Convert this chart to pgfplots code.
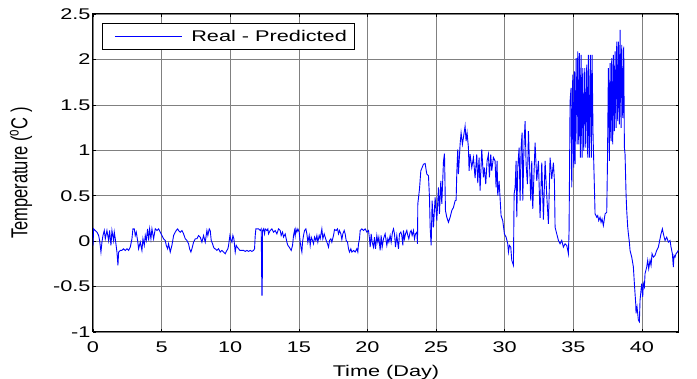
\documentclass[border=0pt]{standalone}
\usepackage{pgfplots}
\pgfplotsset{compat=1.18}
\usepackage{fontspec}
\setmainfont{Liberation Sans}[FakeStretch=1.4]
\newfontfamily\plainfont{Liberation Sans}
\usepackage{graphicx}
\begin{document}
\begin{tikzpicture}
\path[use as bounding box] (-93pt,-47pt) rectangle (604pt,332pt);
\begin{axis}[
  at={(0pt,0pt)}, anchor=south west,
  scale only axis, width=586pt, height=318pt,
  xmin=0, xmax=42.7, ymin=-1, ymax=2.5,
  xtick={0,5,...,40}, ytick={-1,-0.5,0,0.5,1,1.5,2,2.5},
  /pgf/number format/assume math mode=true,
  tick align=inside, major tick length=3pt,
  tick style={black, line width=0.6pt},
  axis line style={black, line width=1pt},
  grid=major, major grid style={black!50, line width=0.6pt},
  every tick label/.append style={font=\fontsize{15.5}{17}\selectfont},
  xticklabel style={yshift=-6pt},
  yticklabel style={xshift=1pt},
  xlabel={Time (Day)}, ylabel={\plainfont\fontsize{16.5}{18}\selectfont\scalebox{1}[1.4]{Temperature (\textsuperscript{o}C )}},
  xlabel style={font=\fontsize{15.5}{17}\selectfont, yshift=-6pt},
  ylabel style={yshift=14pt},
  legend style={at={(axis description cs:0,1)}, anchor=north west, xshift=9pt, yshift=-9pt,
    draw=black, line width=0.8pt, font=\fontsize{15.5}{17}\selectfont,
    inner xsep=6pt, inner ysep=4.5pt},
  legend cell align=left,
  legend image code/.code={\draw[#1, line width=0.6pt] (0pt,0pt) -- (67pt,0pt); \path (-6pt,0pt) (74pt,0pt);},
]
\addplot[blue, line width=0.9pt] coordinates {
(0,-0.05) (0.046,0.135) (0.167,0.117) (0.289,0.099) (0.41,0.062) (0.483,0.007) (0.58,-0.12) (0.653,-0.011) (0.726,0.062) (0.823,0.117) (0.896,0.026) (1.017,0.117) (1.138,0.007) (1.211,0.117) (1.308,-0.047) (1.381,0.117) (1.502,0.007) (1.551,0.099) (1.624,0.026) (1.745,-0.12) (1.818,-0.266) (1.867,-0.12) (1.988,-0.102) (2.109,-0.102) (2.231,-0.084) (2.352,-0.102) (2.473,-0.084) (2.595,-0.102) (2.716,-0.066) (2.838,0.026) (2.91,0.135) (3.008,0.135) (3.08,0.062) (3.153,0.099) (3.25,0.007) (3.323,-0.084) (3.445,-0.011) (3.566,-0.102) (3.639,0.026) (3.736,-0.047) (3.809,0.062) (3.882,0.007) (3.979,0.135) (4.052,0.007) (4.125,0.135) (4.222,0.026) (4.295,0.135) (4.416,0.026) (4.537,0.135) (4.659,0.117) (4.78,0.135) (4.901,0.099) (5.023,0.062) (5.144,0.026) (5.266,0.007) (5.338,-0.047) (5.436,-0.084) (5.508,-0.029) (5.63,-0.12) (5.751,-0.047) (5.873,0.062) (5.994,0.099) (6.067,0.117) (6.164,0.135) (6.237,0.117) (6.358,0.099) (6.479,0.117) (6.601,0.08) (6.722,0.026) (6.844,0.007) (6.965,-0.029) (7.038,-0.084) (7.135,-0.12) (7.208,-0.084) (7.329,-0.011) (7.45,0.026) (7.572,0.026) (7.693,0.062) (7.815,0.044) (7.936,-0.011) (8.058,0.062) (8.179,-0.011) (8.3,0.117) (8.37,0.062)
(8.47,0.135) (8.543,0.117) (8.616,0.007) (8.713,-0.029) (8.786,-0.066) (8.859,-0.084) (8.907,-0.084) (9.029,-0.102) (9.15,-0.084) (9.272,-0.12) (9.393,-0.102) (9.514,-0.12) (9.636,-0.139) (9.757,-0.102) (9.83,-0.084) (9.878,-0.047) (9.927,0.007) (9.976,0.062) (10.024,0.026) (10.121,-0.011) (10.194,0.062) (10.267,0.026) (10.315,-0.047) (10.364,-0.12) (10.437,-0.047) (10.51,-0.066) (10.607,-0.084) (10.704,-0.102) (10.85,-0.102) (10.971,-0.102) (11.092,-0.113) (11.214,-0.102) (11.335,-0.113) (11.457,-0.102) (11.578,-0.113) (11.699,-0.102) (11.772,-0.084) (11.821,0.062) (11.869,0.135) (11.942,0.135) (12.063,0.135) (12.185,0.117) (12.258,0.135) (12.306,-0.595) (12.33,-0.595) (12.355,0.117) (12.428,0.135) (12.5,0.08) (12.549,0.135) (12.67,0.117) (12.743,0.135) (12.792,0.08) (12.913,0.117) (13.035,0.135) (13.156,0.099) (13.277,0.117) (13.399,0.08) (13.52,0.135) (13.642,0.117) (13.714,0.062) (13.812,0.099) (13.884,0.044) (14.006,0.08) (14.127,-0.011) (14.2,-0.047) (14.297,-0.066) (14.37,-0.084) (14.443,-0.102) (14.54,-0.047) (14.613,0.062) (14.686,0.117) (14.734,0.062) (14.783,0.135) (14.855,0.099) (14.928,0.135) (15.025,0.099) (15.098,-0.011) (15.171,-0.084) (15.22,-0.12) (15.268,-0.011) (15.341,0.062) (15.414,0.117) (15.511,0.135) (15.584,0.08) (15.657,-0.011) (15.754,0.062) (15.827,-0.047) (15.9,0.044) (15.996,0.007) (16.069,-0.029) (16.142,0.044) (16.239,0.007) (16.312,0.062) (16.385,-0.011) (16.482,0.062) (16.555,0.026)
(16.676,0.135) (16.749,0.026) (16.846,0.08) (16.919,0.044) (16.992,0.007) (17.089,-0.029) (17.162,-0.066) (17.235,0.007) (17.332,0.026) (17.405,-0.011) (17.526,0.062) (17.599,0.128) (17.72,0.117) (17.817,0.135) (17.89,0.08) (17.963,0.117) (18.06,0.08) (18.133,0.018) (18.206,0.08) (18.303,0.117) (18.376,0.08) (18.449,0.007) (18.546,-0.011) (18.619,-0.084) (18.691,-0.12) (18.788,-0.084) (18.861,-0.12) (18.983,-0.102) (19.104,-0.12) (19.226,-0.084) (19.298,-0.12) (19.347,-0.029) (19.42,0.026) (19.468,0.117) (19.59,0.135) (19.711,0.117) (19.833,0.135) (19.954,0.099) (20.075,0.117) (20.148,0.026) (20.197,-0.066) (20.27,0.08) (20.342,-0.011) (20.439,-0.066) (20.512,0.044) (20.585,-0.084) (20.682,0.062) (20.755,-0.011) (20.828,0.044) (20.925,-0.102) (20.998,0.062) (21.071,-0.066) (21.168,0.026) (21.289,0.08) (21.411,-0.047) (21.484,0.026) (21.556,-0.011) (21.653,0.062) (21.726,-0.011) (21.823,0.099) (21.896,0.135) (21.969,0.08) (22.042,-0.066) (22.139,0.062) (22.26,-0.084) (22.333,0.08) (22.43,0.099) (22.503,0.062) (22.576,-0.047) (22.624,0.117) (22.697,0.026) (22.77,0.08) (22.867,0.117) (22.94,0.062) (23.013,0.026) (23.11,0.099) (23.183,0.117) (23.256,0.062) (23.353,0.117) (23.426,0.026) (23.498,0.08) (23.596,0.099) (23.644,-0.029)
(23.668,0.409) (23.79,0.573) (23.887,0.774) (23.984,0.81) (24.081,0.847) (24.203,0.854) (24.324,0.737) (24.445,0.719) (24.518,0.482) (24.567,0.153) (24.64,-0.047) (24.712,0.445) (24.809,0.153) (24.931,0.482) (25.052,0.226) (25.174,0.591) (25.246,0.299) (25.343,0.664) (25.416,0.409) (25.538,0.876) (25.611,0.964) (25.683,0.336) (25.78,0.263) (25.902,0.208) (26.023,0.263) (26.145,0.336) (26.266,0.372) (26.388,0.445) (26.46,0.45)
(26.506,0.737) (26.579,1.011) (26.628,0.737) (26.749,1.066) (26.822,1.193) (26.919,1.066) (26.992,1.139) (27.113,1.266) (27.186,1.102) (27.259,1.193) (27.356,1.029) (27.405,0.774) (27.478,0.956) (27.599,0.81) (27.72,0.92) (27.842,0.693) (27.963,0.956) (28.036,0.639) (28.133,0.92) (28.206,0.555) (28.327,1.011) (28.449,0.701) (28.521,0.81) (28.618,0.628) (28.716,0.883) (28.813,0.956) (28.886,0.701) (28.983,0.956) (29.056,0.774) (29.177,0.92) (29.298,0.883) (29.371,0.591) (29.444,0.883) (29.493,0.5) (29.59,0.664) (29.735,0.281) (29.857,0.226) (29.978,0.08) (30.1,0.044) (30.221,-0.029)
(30.272,-0.12) (30.345,-0.047) (30.442,-0.066) (30.515,-0.212) (30.636,-0.266) (30.685,0.518) (30.758,0.591) (30.83,0.883) (30.879,0.263) (30.952,0.81) (31.049,1.029) (31.122,0.445) (31.195,1.029) (31.267,1.193) (31.316,0.445) (31.413,1.084) (31.486,1.321) (31.559,0.847) (31.656,0.628) (31.729,1.212) (31.801,0.883) (31.899,0.445) (31.971,0.883) (32.044,0.354) (32.214,1.084) (32.336,0.664) (32.457,0.883) (32.578,0.255) (32.7,0.865) (32.821,0.237) (32.943,0.883) (33.064,0.5) (33.185,0.19) (33.307,0.92) (33.428,0.682) (33.549,0.865) (33.622,0.664) (33.671,0.153) (33.792,0.08) (33.914,0.007) (34.035,-0.029) (34.156,0.007) (34.278,-0.066) (34.399,-0.029) (34.52,-0.047) (34.642,-0.139) (34.69,0.117)
(34.763,1.54) (34.836,1.686) (34.885,0.591) (34.958,1.832) (35.031,0.81) (35.079,1.869) (35.128,0.847) (35.201,2.015) (35.273,1.066) (35.322,2.088) (35.395,1.066) (35.443,2.07) (35.516,0.92) (35.565,2.051) (35.638,0.92) (35.686,1.905) (35.759,0.993) (35.832,1.905) (35.905,1.029) (35.977,1.942) (36.05,0.92) (36.099,2.051) (36.172,0.92) (36.244,2.051) (36.317,0.92) (36.366,2.051) (36.439,1.157) (36.536,0.591) (36.584,0.299) (36.657,0.281) (36.706,0.263) (36.779,0.281) (36.851,0.226) (36.949,0.263) (37.021,0.208) (37.094,0.245) (37.191,0.172) (37.313,0.299) (37.434,0.318)
(37.483,0.81) (37.555,1.905) (37.628,0.883) (37.677,1.96) (37.75,1.102) (37.798,2.015) (37.871,1.066) (37.92,2.051) (37.993,1.212) (38.041,2.088) (38.114,1.248) (38.163,2.197) (38.235,1.321) (38.284,2.197) (38.357,1.285) (38.405,2.325) (38.478,1.248) (38.527,2.161) (38.6,1.358) (38.672,2.142) (38.721,1.029) (38.77,0.956) (38.842,0.518) (38.891,0.336) (38.964,0.153)
(39.012,0.08) (39.085,-0.011) (39.133,-0.102) (39.255,-0.175) (39.376,-0.285) (39.449,-0.467) (39.546,-0.686) (39.57,-0.795) (39.643,-0.723) (39.74,-0.869) (39.813,-0.887) (39.862,-0.649) (39.91,-0.577) (39.983,-0.467) (40.056,-0.613) (40.104,-0.467) (40.177,-0.504) (40.226,-0.358) (40.347,-0.285) (40.42,-0.212) (40.493,-0.303) (40.59,-0.212) (40.663,-0.266) (40.736,-0.139) (40.833,-0.175) (40.954,-0.157) (41.076,-0.102) (41.197,-0.066) (41.318,0.026) (41.391,0.08) (41.488,0.135) (41.561,0.08) (41.683,0.007) (41.804,0.044) (41.925,-0.011) (42.047,0.007) (42.12,-0.066) (42.217,-0.139) (42.289,-0.285) (42.338,-0.157) (42.411,-0.175) (42.484,-0.139) (42.581,-0.12) (42.65,-0.1)
};
\addlegendentry{Real - Predicted}
\end{axis}
\end{tikzpicture}
\end{document}
